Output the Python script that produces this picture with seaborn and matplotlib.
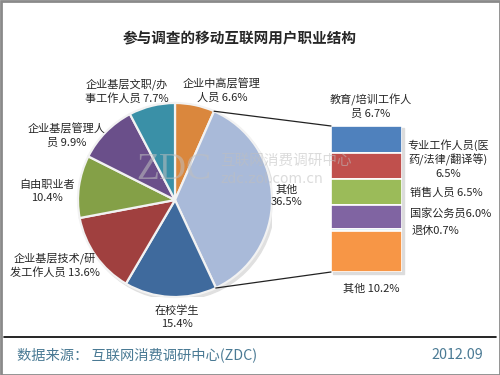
import numpy as np
import matplotlib as mpl
mpl.use('Agg')
import matplotlib.pyplot as plt
from matplotlib.patches import Rectangle
import seaborn as sns

# pie data (clockwise from 12 o'clock)
pie_labels = ['企业中高层管理\n人员 6.6%', '其他\n36.5%', '在校学生\n15.4%',
              '企业基层技术/研\n发工作人员 13.6%', '自由职业者\n10.4%',
              '企业基层管理人\n员 9.9%', '企业基层文职/办\n事工作人员 7.7%']
pie_values = [6.6, 36.5, 15.4, 13.6, 10.4, 9.9, 7.7]
pie_colors = ['#DA873D', '#A9BAD9', '#3F6A9D', '#A0403F', '#84A047', '#6A4F8A', '#3A90A7']

# breakdown of "其他" (top to bottom)
bar_labels = ['教育/培训工作人\n员 6.7%', '专业工作人员(医\n药/法律/翻译等)\n6.5%', '销售人员 6.5%',
              '国家公务员6.0%', '退休0.7%', '其他 10.2%']
bar_values = [6.7, 6.5, 6.5, 6.0, 0.7, 10.2]
bar_colors = ['#4F81BD', '#C0504D', '#9BBB59', '#8064A2', '#4BACC6', '#F79646']

title = '参与调查的移动互联网用户职业结构'
source = '数据来源： 互联网消费调研中心(ZDC)'
date = '2012.09'

sns.set_style('white')
plt.rcParams['font.family'] = ['Noto Sans CJK SC', 'DejaVu Sans']

W, H = 500, 375
fig = plt.figure(figsize=(5, 3.75), dpi=100)
fig.patch.set_facecolor('white')

def box(x0, y0, x1, y1):
    # pixel box (top-left origin) -> figure fraction
    return [x0 / W, 1 - y1 / H, (x1 - x0) / W, (y1 - y0) / H]

# pie
cx, cy, r = 175, 200, 97
ax_pie = fig.add_axes(box(cx - r, cy - r, cx + r, cy + r))
# soft shadow
ax_pie.add_patch(plt.Circle((0.025, -0.03), 1.0, color='#e0e0e0', zorder=0))
ax_pie.pie(pie_values, colors=pie_colors, startangle=90, counterclock=False,
           radius=1, wedgeprops=dict(edgecolor='#f2f2f2', linewidth=1.6))
ax_pie.set_xlim(-1, 1)
ax_pie.set_ylim(-1, 1)
ax_pie.axis('off')

# stacked bar
bx0, by0, bx1, by1 = 331, 126, 402, 272
ax_bar = fig.add_axes(box(bx0, by0, bx1, by1))
ax_bar.add_patch(Rectangle((-0.47, 0.4), 1.0, sum(bar_values), color='#dcdcdc', zorder=0,
                           clip_on=False))
bottoms = np.concatenate([[0], np.cumsum(bar_values)[:-1]])
ax_bar.bar(0, bar_values, bottom=bottoms, width=1, color=bar_colors,
           edgecolor='white', linewidth=1.2, zorder=2)
ax_bar.set_xlim(-0.5, 0.5)
ax_bar.set_ylim(sum(bar_values), 0)
ax_bar.axis('off')

# overlay in pixel coordinates
ov = fig.add_axes([0, 0, 1, 1], zorder=5)
ov.set_xlim(0, W)
ov.set_ylim(H, 0)
ov.patch.set_alpha(0)
ov.axis('off')

# connector lines from the "其他" wedge to the bar
a1 = np.deg2rad(90 - pie_values[0] * 3.6)
a2 = np.deg2rad(90 - (pie_values[0] + pie_values[1]) * 3.6)
ov.plot([cx + r * np.cos(a1), bx0], [cy - r * np.sin(a1), by0], color='#222222', lw=0.9)
ov.plot([cx + r * np.cos(a2), bx0], [cy - r * np.sin(a2), by1], color='#222222', lw=0.9)

# watermark
wm = dict(color='#bfbfbf', alpha=0.55, zorder=1)
ov.text(174, 170, 'ZDC', fontsize=27, ha='center', va='center', family='Liberation Serif', **wm)
ov.text(220, 161, '互联网消费调研中心', fontsize=10.5, ha='left', va='center', **wm)
ov.text(220, 179, 'zdc.zol.com.cn', fontsize=10, ha='left', va='center', family='DejaVu Sans', **wm)

ov.text(240, 38, title, fontsize=10.5, fontweight='bold', ha='center', va='center')

fs = 8
pie_pos = [(222, 91), (287, 196), (177, 317), (55, 265), (47, 191), (67, 136), (127, 91)]
for lab, (x, y) in zip(pie_labels, pie_pos):
    ov.text(x, y, lab, fontsize=fs, ha='center', va='center', linespacing=1.35)

bar_pos = [(371, 106), (448, 159), (446, 193), (451, 213), (435, 231), (371, 289)]
for lab, (x, y) in zip(bar_labels, bar_pos):
    ov.text(x, y, lab, fontsize=fs, ha='center', va='center', linespacing=1.35)

# footer
ov.plot([4, 496], [337, 337], color='black', lw=1.2)
ov.text(17, 355, source, fontsize=10.3, color='#4A7A94', ha='left', va='center')
ov.text(483, 355, date, fontsize=10.3, color='#4A7A94', ha='right', va='center')

# frame
ov.add_patch(Rectangle((0.5, 0.5), W - 1, H - 1, fill=False, edgecolor='#8a8a8a', lw=2))

fig.savefig('out.png', dpi=100)
